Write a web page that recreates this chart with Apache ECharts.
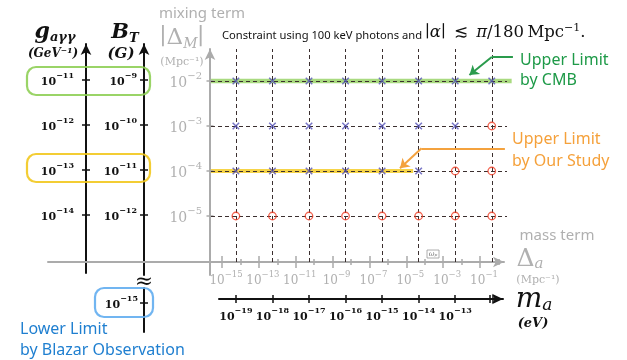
<!DOCTYPE html>
<html><head><meta charset="utf-8">
<script src="https://cdn.jsdelivr.net/npm/echarts@6/dist/echarts.min.js"></script>
<style>html,body{margin:0;padding:0;background:#fff}#c{width:627px;height:360px}</style>
</head><body><div id="c"></div>
<script>
// ---------------- data ----------------
const massColumns = [-19, -18, -17, -16, -15, -14, -13, -12];   // log10 m_a (eV)
const mixRows = [-2, -3, -4, -5];                                 // log10 |Δ_M| (Mpc^-1)
const resultRowM2 = ['x','x','x','x','x','x','x','x'];
const resultRowM3 = ['x','x','x','x','x','x','x','o'];
const resultRowM4 = ['x','x','x','x','x','x','o','o'];
const resultRowM5 = ['o','o','o','o','o','o','o','o'];
const gTicks = [-11, -12, -13, -14];            // log10 g_aγγ (GeV^-1)
const bTicks = [-9, -10, -11, -12];             // log10 B_T (G)
const bLowTicks = [-15];
const deltaALabelTicks = [-15, -13, -11, -9, -7, -5, -3, -1];
const deltaAMinorTicks = [-14, -12, -10, -8, -6, -4, -2, 0];
const massTicks = [-19, -18, -17, -16, -15, -14, -13, -12.06, -11.96];
const massLabels = [-19, -18, -17, -16, -15, -14, -13];
const mixTicks = [-2, -3, -4, -5];
const cmbLimit = [[-19.71, -2], [-11.455, -2]];
const ourLimit = [[-19.71, -4], [-14.15, -4]];
const cmbArrow = [[-11.42, -1.467], [-12.0, -1.467], [-12.61, -1.867]];
const ourArrow = [[-11.64, -3.496], [-13.92, -3.496], [-14.51, -3.94]];

// ---------------- helpers ----------------
const GRAY = '#ababab', GRAYTXT = '#b0b0b0', BLACK = '#111';
const SERIF = 'DejaVu Serif', SANS = 'Noto Sans';
const expStr = e => String(Math.round(e)).replace('-', '−');
function powLabel(base, sup, weight, color) {
  return {
    formatter: v => '{b|10}{s|' + expStr(v) + '}',
    rich: {
      b:{fontFamily:SERIF, fontWeight:weight, fontSize:base, color, lineHeight:base + 5, verticalAlign:'bottom'},
      s:{fontFamily:SERIF, fontWeight:weight, fontSize:sup, color, lineHeight:sup, verticalAlign:'top'}
    }
  };
}

function hidden(grid, min, max) { return {type:'value', gridIndex:grid, min, max, show:false}; }
function axis(o) {
  return {
    type:'value', gridIndex:o.grid, min:o.min, max:o.max, position:o.position, offset:0,
    splitLine:{show:false},
    axisLine:{show:o.showLine !== false, onZero:false, symbol:o.arrow ? ['none','arrow'] : 'none',
      symbolSize:[8, 11], lineStyle:{color:o.color, width:o.lineWidth || 2}},
    axisTick:{show:!!o.ticks, customValues:o.ticks || [], inside:!!o.inside, length:o.tickLen || 4,
      lineStyle:{color:o.color, width:o.tickWidth || 1.5}},
    axisLabel:Object.assign({show:!!o.labels, customValues:o.labels || [], margin:o.margin || 8}, o.labelStyle || {}),
    silent:true, z:o.z || 3
  };
}
const boldLbl = powLabel(11, 8, 'bold', BLACK);
const grayXLbl = Object.assign({padding:[0,0,0,8]}, powLabel(12, 8.5, 'normal', GRAYTXT));
const grayYLbl = powLabel(14, 10, 'normal', GRAYTXT);

// ---------------- marks ----------------
const rows = [resultRowM2, resultRowM3, resultRowM4, resultRowM5];
const crosses = [], circles = [];
rows.forEach((r, i) => r.forEach((s, j) => {
  (s === 'x' ? crosses : circles).push([massColumns[j], mixRows[i]]);
}));
function arrowLines(a) {
  return [
    [{coord:a[0], symbol:'none'}, {coord:a[1], symbol:'none'}],
    [{coord:a[1], symbol:'none'}, {coord:a[2], symbol:'arrow'}]
  ];
}

function txt(x, y, text, style) {
  return {type:'text', x, y, silent:true, z:10,
    style:Object.assign({text, align:'center', verticalAlign:'middle'}, style)};
}
function box(x, y, w, h, color) {
  return {type:'rect', silent:true, z:9, shape:{x, y, width:w, height:h, r:9},
    style:{fill:'none', stroke:color, lineWidth:2.2, opacity:0.9}};
}

const option = {
  animation:false,
  grid:[
    {left:211, top:49, width:296, height:213},   // 0 main (dashed area)
    {left:210, top:49, width:1, height:226},     // 1 gray |Δ_M| axis
    {left:48, top:240, width:456, height:22},    // 2 gray Δ_a axis
    {left:86, top:44, width:1, height:229},      // 3 g axis
    {left:144, top:44, width:1, height:231},     // 4 B_T upper
    {left:144, top:288, width:1, height:44},     // 5 B_T lower
    {left:219, top:280, width:284, height:19},   // 6 m_a axis
    {left:200, top:40, width:330, height:222}    // 7 overlay (bands, arrows)
  ],
  xAxis:[
    hidden(0, -19.681, -11.583),
    hidden(1, 0, 1),
    axis({grid:2, min:-24.441, max:0.301, position:'bottom', color:GRAY, arrow:true, ticks:deltaALabelTicks,
      tickLen:6, labels:deltaALabelTicks, margin:8, labelStyle:grayXLbl}),
    axis({grid:2, min:-24.441, max:0.301, position:'bottom', color:GRAY, showLine:false, ticks:deltaALabelTicks, tickLen:6, inside:true}),
    axis({grid:2, min:-24.441, max:0.301, position:'bottom', color:GRAY, showLine:false, ticks:deltaAMinorTicks, tickLen:3}),
    axis({grid:2, min:-24.441, max:0.301, position:'bottom', color:GRAY, showLine:false, ticks:deltaAMinorTicks, tickLen:3, inside:true}),
    hidden(3, 0, 1),
    hidden(4, 0, 1),
    hidden(5, 0, 1),
    axis({grid:6, min:-19.462, max:-11.692, position:'bottom', color:BLACK, arrow:true, ticks:massTicks,
      tickLen:4, labels:massLabels, margin:8, labelStyle:boldLbl}),
    axis({grid:6, min:-19.462, max:-11.692, position:'bottom', color:BLACK, showLine:false, ticks:massTicks, tickLen:4, inside:true}),
    hidden(7, -19.982, -10.953)
  ],
  yAxis:[
    hidden(0, -6.022, -1.289),
    axis({grid:1, min:-6.311, max:-1.289, position:'left', color:GRAY, arrow:true, ticks:mixTicks, tickLen:3.5,
      labels:mixTicks, margin:8, labelStyle:grayYLbl}),
    axis({grid:1, min:-6.311, max:-1.289, position:'left', color:GRAY, showLine:false, ticks:mixTicks, tickLen:3.5, inside:true}),
    hidden(2, 0, 1),
    axis({grid:3, min:-15.289, max:-10.2, position:'left', color:BLACK, arrow:true, ticks:gTicks, labels:gTicks, margin:12, labelStyle:boldLbl}),
    axis({grid:3, min:-15.289, max:-10.2, position:'left', color:BLACK, showLine:false, ticks:gTicks, inside:true}),
    axis({grid:4, min:-13.333, max:-8.2, position:'left', color:BLACK, arrow:true, ticks:bTicks, labels:bTicks, margin:7, labelStyle:boldLbl}),
    axis({grid:4, min:-13.333, max:-8.2, position:'left', color:BLACK, showLine:false, ticks:bTicks, inside:true}),
    axis({grid:5, min:-15.651, max:-14.673, position:'left', color:BLACK, ticks:bLowTicks, labels:bLowTicks, margin:6, labelStyle:boldLbl}),
    axis({grid:5, min:-15.651, max:-14.673, position:'left', color:BLACK, showLine:false, ticks:bLowTicks, inside:true}),
    hidden(6, 0, 1),
    hidden(7, -6.022, -1.089)
  ],
  series:[
    {type:'line', name:'Upper Limit by CMB', xAxisIndex:11, yAxisIndex:11, data:cmbLimit, symbol:'none', clip:false,
      lineStyle:{color:'rgba(140,205,85,0.75)', width:4.5}, silent:true, z:1},
    {type:'line', name:'Upper Limit by Our Study', xAxisIndex:11, yAxisIndex:11, data:ourLimit, symbol:'none', clip:false,
      lineStyle:{color:'rgba(245,205,40,0.85)', width:4}, silent:true, z:1},
    {type:'line', name:'grid', xAxisIndex:0, yAxisIndex:0, data:[], silent:true, z:2,
      markLine:{silent:true, symbol:'none', label:{show:false}, animation:false,
        lineStyle:{type:[4, 3], color:'#3b2f2f', width:1},
        emphasis:{disabled:true},
        data:massColumns.map(v => ({xAxis:v})).concat(mixRows.map(v => ({yAxis:v})))}},
    {type:'scatter', name:'allowed', xAxisIndex:0, yAxisIndex:0, data:crosses, silent:true, z:5,
      symbol:'path://M0,0L10,10M10,0L0,10', symbolSize:6.5,
      itemStyle:{color:'rgba(0,0,0,0)', borderColor:'#5553b8', borderWidth:1.5}},
    {type:'scatter', name:'excluded', xAxisIndex:0, yAxisIndex:0, data:circles, silent:true, z:5,
      symbol:'circle', symbolSize:7.5,
      itemStyle:{color:'rgba(255,255,255,0)', borderColor:'#ef3a20', borderWidth:1.3}},
    {type:'line', name:'cmb arrow', xAxisIndex:11, yAxisIndex:11, data:[], silent:true, z:4,
      markLine:{silent:true, symbol:['none','arrow'], symbolSize:9, label:{show:false}, animation:false,
        lineStyle:{type:'solid', color:'#2a9b4c', width:2}, emphasis:{disabled:true}, data:arrowLines(cmbArrow)}},
    {type:'line', name:'our arrow', xAxisIndex:11, yAxisIndex:11, data:[], silent:true, z:4,
      markLine:{silent:true, symbol:['none','arrow'], symbolSize:9, label:{show:false}, animation:false,
        lineStyle:{type:'solid', color:'#f4a23e', width:2}, emphasis:{disabled:true}, data:arrowLines(ourArrow)}}
  ],
  graphic:[
    box(27, 67, 123, 28, '#8fcf57'),
    box(27, 154, 123, 28, '#f2c81e'),
    box(95, 288, 58, 29, '#62adf0'),
    txt(55, 32, '{g|g}{s|aγγ}', {rich:{
      g:{fontFamily:SERIF, fontWeight:'bold', fontStyle:'italic', fontSize:22, fill:BLACK, lineHeight:24},
      s:{fontFamily:SERIF, fontWeight:'bold', fontStyle:'italic', fontSize:13, fill:BLACK, verticalAlign:'bottom', lineHeight:12}}}),
    txt(53, 54, '(GeV⁻¹)', {fontFamily:SERIF, fontWeight:'bold', fontStyle:'italic', fontSize:12, fill:BLACK}),
    txt(125, 33, '{b|B}{s|T}', {rich:{
      b:{fontFamily:SERIF, fontWeight:'bold', fontStyle:'italic', fontSize:21, fill:BLACK, lineHeight:24},
      s:{fontFamily:SERIF, fontWeight:'bold', fontStyle:'italic', fontSize:13, fill:BLACK, verticalAlign:'bottom', lineHeight:12}}}),
    txt(121, 54, '(G)', {fontFamily:SERIF, fontWeight:'bold', fontStyle:'italic', fontSize:15, fill:BLACK}),
    txt(144, 282, '≈', {fontFamily:SERIF, fontSize:22, fill:BLACK}),
    txt(202, 14, 'mixing term', {fontFamily:SANS, fontSize:15, fill:GRAYTXT}),
    txt(182, 38, '{p|∣Δ}{s|M}{p|∣}', {rich:{
      p:{fontFamily:SERIF, fontSize:23, fill:GRAYTXT, lineHeight:26},
      s:{fontFamily:SERIF, fontStyle:'italic', fontSize:14, fill:GRAYTXT, verticalAlign:'bottom', lineHeight:14}}}),
    txt(182, 62, '(Mpc⁻¹)', {fontFamily:SERIF, fontSize:11, fill:GRAYTXT}),
    txt(557, 236, 'mass term', {fontFamily:SANS, fontSize:15, fill:GRAYTXT}),
    txt(530, 259, '{p|Δ}{s|a}', {rich:{
      p:{fontFamily:SERIF, fontSize:25, fill:GRAYTXT, lineHeight:26},
      s:{fontFamily:SERIF, fontStyle:'italic', fontSize:15, fill:GRAYTXT, verticalAlign:'bottom', lineHeight:14}}}),
    txt(538, 280, '(Mpc⁻¹)', {fontFamily:SERIF, fontSize:11, fill:GRAYTXT}),
    txt(534, 300, '{m|m}{s|a}', {rich:{
      m:{fontFamily:SERIF, fontStyle:'italic', fontSize:28, fill:BLACK, lineHeight:28},
      s:{fontFamily:SERIF, fontStyle:'italic', fontSize:17, fill:BLACK, verticalAlign:'bottom', lineHeight:16}}}),
    txt(533, 324, '(eV)', {fontFamily:SERIF, fontWeight:'bold', fontStyle:'italic', fontSize:13, fill:BLACK}),
    {type:'rect', silent:true, z:9, shape:{x:427, y:250, width:12, height:8}, style:{fill:'#fff', stroke:'#999', lineWidth:0.8}},
    txt(433, 254, 'ωₚ', {fontFamily:SERIF, fontStyle:'italic', fontSize:7, fill:'#777'}),
    txt(222, 32, '{a|Constraint using 100 keV photons and }{m|∣}{i|α}{m|∣\u2002≲\u2002}{i|π}{m|/180\u2009Mpc}{s|−1}{m|.}', {align:'left', rich:{
      a:{fontFamily:SANS, fontSize:11.2, fill:BLACK, lineHeight:19, verticalAlign:'bottom'},
      m:{fontFamily:SERIF, fontSize:16.5, fill:BLACK, lineHeight:19, verticalAlign:'bottom'},
      i:{fontFamily:SERIF, fontStyle:'italic', fontSize:16.5, fill:BLACK, lineHeight:19, verticalAlign:'bottom'},
      s:{fontFamily:SERIF, fontSize:11, fill:BLACK, lineHeight:11, verticalAlign:'top'}}}),
    txt(520, 60, 'Upper Limit', {align:'left', fontFamily:SANS, fontSize:16, fill:'#1e9a48'}),
    txt(520, 80, 'by CMB', {align:'left', fontFamily:SANS, fontSize:16, fill:'#1e9a48'}),
    txt(512, 139, 'Upper Limit', {align:'left', fontFamily:SANS, fontSize:16, fill:'#f5a13b'}),
    txt(512, 161, 'by Our Study', {align:'left', fontFamily:SANS, fontSize:16, fill:'#f5a13b'}),
    txt(20, 329, 'Lower Limit', {align:'left', fontFamily:SANS, fontSize:16, fill:'#1f7fd0'}),
    txt(20, 350, 'by Blazar Observation', {align:'left', fontFamily:SANS, fontSize:16, fill:'#1f7fd0'})
  ]
};
const chart = echarts.init(document.getElementById('c'), null, {renderer:'canvas'});
chart.setOption(option);
</script></body></html>
